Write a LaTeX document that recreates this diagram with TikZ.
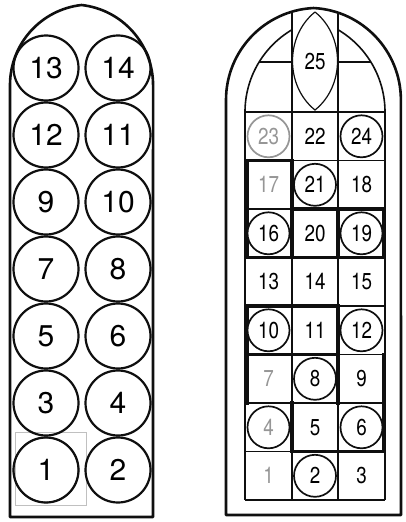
\documentclass[tikz,border=0pt]{standalone}
\usepackage{fontspec}
\setmainfont{TeX Gyre Heros}
\newfontfamily\panefont[FakeStretch=0.82]{TeX Gyre Heros}
\usepackage{tikz}
\definecolor{LeadBlack}{RGB}{15,15,15}
\definecolor{FadedGray}{RGB}{150,150,150}

\tikzset{
  windowframe/.style={line width=2.6pt,line join=round,LeadBlack},
  roundel/.style={circle,draw=LeadBlack,line width=2.2pt,minimum size=65pt,inner sep=0pt,
    font=\fontsize{30}{30}\selectfont},
  glassline/.style={line width=1.2pt,LeadBlack},
  leadline/.style={line width=3.4pt,LeadBlack,line cap=rect},
  cellnum/.style={inner sep=0pt,font=\panefont\fontsize{23}{23}\selectfont},
  cellring/.style={cellnum,circle,draw=LeadBlack,line width=1.7pt,minimum size=42pt},
  fadednum/.style={cellnum,text=FadedGray},
  fadedring/.style={cellring,text=FadedGray},
  fadedall/.style={cellring,text=FadedGray,draw=FadedGray}
}

\begin{document}
\begin{tikzpicture}[x=1pt,y=-1pt]
  \useasboundingbox (0,0) rectangle (405,522);
  % left window
  \draw[windowframe] (10,517) -- (10,85)
    arc[start angle=180,end angle=263.6,radius=80.5]
    arc[start angle=276.4,end angle=360,radius=80.5] -- (153,517) -- cycle;
  \draw[FadedGray!60,thin] (15,432) rectangle (86,505);
  \foreach \n/\x/\y in {13/46/68,14/118/68,12/46/135,11/118/135,9/46/202,10/118/202,
      7/46/269,8/118/269,5/46/336,6/118/336,3/46/403,4/118/403,1/46/470,2/118/470}
    \node[roundel] (a\n) at (\x,\y) {\n};
  \draw[line width=1.4pt,LeadBlack] (a1) circle (32.5pt);

  % right window
  \draw[windowframe] (226,515) -- (226,100)
    arc[start angle=180,end angle=267.1,radius=92.1]
    arc[start angle=272.9,end angle=360,radius=92.1] -- (401,515) -- cycle;
  \draw[glassline,line width=1.6pt] (245,112) arc[start angle=180,end angle=239.5,radius=95.5];
  \draw[glassline,line width=1.6pt] (385,112) arc[start angle=360,end angle=300.5,radius=95.5];
  \draw[glassline] (259,62) -- (292,62) (338,62) -- (371,62);
  \draw[glassline] (292,11.7) -- (292,500) (338,12.6) -- (338,500);
  \draw[glassline] (315,12) .. controls (285,36) and (285,86) .. (315,110)
    .. controls (345,86) and (345,36) .. (315,12);
  \node[cellnum] (b25) at (315,62) {25};
  \foreach \x in {245,385}
    \draw[glassline] (\x,112) -- (\x,500);
  \foreach \y in {112,160.5,209,257.5,306,354.5,403,451.5,500}
    \draw[glassline] (245,\y) -- (385,\y);
  % heavy leads
  \draw[leadline] (247,257.5) -- (247,160.5) -- (292,160.5) -- (292,257.5);
  \draw[leadline] (292,209) -- (384,209) -- (384,257.5) -- (247,257.5);
  \draw[leadline] (338,209) -- (338,257.5);
  \draw[leadline] (247,403) -- (247,306) -- (338,306) -- (338,403);
  \draw[leadline] (247,354.5) -- (338,354.5);
  \draw[leadline] (384,354.5) -- (384,451.5) -- (292,451.5) -- (292,403);
  % panes
  \foreach \n/\x/\y/\s in {23/268.5/136.3/fadedall,22/315/136.3/cellnum,24/361.5/136.3/cellring,
      17/268.5/184.8/fadednum,21/315/184.8/cellring,18/361.5/184.8/cellnum,
      16/268.5/233.3/cellring,20/315/233.3/cellnum,19/361.5/233.3/cellring,
      13/268.5/281.8/cellnum,14/315/281.8/cellnum,15/361.5/281.8/cellnum,
      10/268.5/330.3/cellring,11/315/330.3/cellnum,12/361.5/330.3/cellring,
      7/268.5/378.8/fadednum,8/315/378.8/cellring,9/361.5/378.8/cellnum,
      4/268.5/427.3/fadedring,5/315/427.3/cellnum,6/361.5/427.3/cellring,
      1/268.5/475.8/fadednum,2/315/475.8/cellring,3/361.5/475.8/cellnum}
    \node[\s,fill=white] (b\n) at (\x,\y) {\n};
\end{tikzpicture}
\end{document}
